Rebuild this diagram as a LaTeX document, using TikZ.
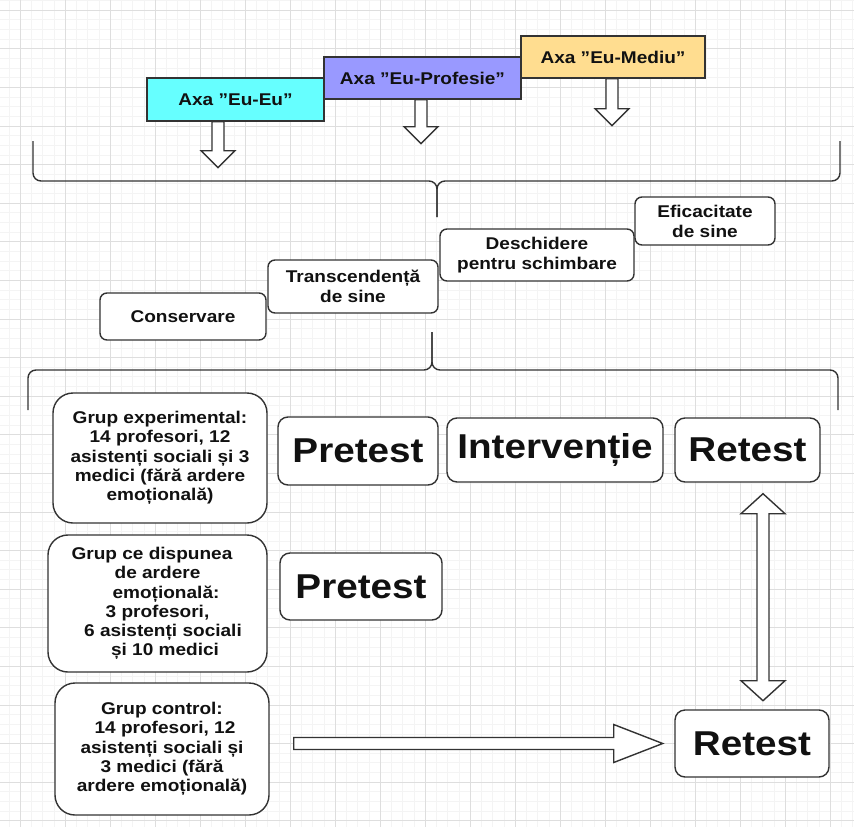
\documentclass[tikz,border=0pt]{standalone}
\usepackage{fontspec}
\setmainfont{Liberation Sans}[FakeStretch=1.12]
\usetikzlibrary{calc}
\definecolor{edge}{HTML}{333333}
\definecolor{ink}{HTML}{111111}
\definecolor{gmaj}{HTML}{DEDEDE}
\definecolor{gmin}{HTML}{F4F4F4}
\definecolor{cyanbox}{HTML}{66FFFF}
\definecolor{lavbox}{HTML}{9999FF}
\definecolor{yelbox}{HTML}{FFDD90}
\tikzset{
  axisbox/.style={draw=edge, line width=1.4pt, align=center, inner sep=0pt, text=ink,
    font=\fontsize{17}{20}\selectfont\bfseries},
  stepbox/.style={draw=edge, line width=1.4pt, fill=white, rounded corners=7pt, align=center,
    inner sep=0pt, text=ink, font=\fontsize{17}{20}\selectfont\bfseries},
  grpbox/.style={stepbox, rounded corners=20pt, font=\fontsize{17}{19.3}\selectfont\bfseries},
  bigbox/.style={stepbox, rounded corners=10pt, font=\fontsize{34.5}{40}\selectfont\bfseries},
  blockarrow/.style={draw=edge, line width=1.4pt, fill=white, line join=miter},
  bracestyle/.style={draw=edge, line width=1.4pt, rounded corners=8pt},
  pics/arrowdown/.style={code={
    \draw[blockarrow] (-6,0) -- (6,0) -- (6,#1-17) -- (17,#1-17) -- (0,#1)
      -- (-17,#1-17) -- (-6,#1-17) -- cycle;}},
  pics/arrowright/.style={code={
    \draw[blockarrow] (0,-6) -- (#1-49,-6) -- (#1-49,-19) -- (#1,0) -- (#1-49,19)
      -- (#1-49,6) -- (0,6) -- cycle;}},
  pics/arrowupdown/.style={code={
    \draw[blockarrow] (0,0) -- (22,20) -- (6,20) -- (6,#1-20) -- (22,#1-20) -- (0,#1)
      -- (-22,#1-20) -- (-6,#1-20) -- (-6,20) -- (-22,20) -- cycle;}}
}
\begin{document}
\begin{tikzpicture}[x=1pt,y=-1pt]
\useasboundingbox (0,0) rectangle (854,827);
\fill[white] (0,0) rectangle (854,827);
% grid
\foreach \i in {-2,...,76} \draw[gmin, line width=0.5pt] ({20+11.25*\i},0) -- ({20+11.25*\i},827);
\foreach \i in {-2,...,86} \draw[gmin, line width=0.5pt] (0,{10+9.65*\i}) -- (854,{10+9.65*\i});
\foreach \i in {-1,...,19} \draw[gmaj, line width=0.6pt] ({20+45*\i},0) -- ({20+45*\i},827);
\foreach \i in {-1,...,21} \draw[gmaj, line width=0.6pt] (0,{10+38.6*\i}) -- (854,{10+38.6*\i});

% axes
\node[axisbox, fill=cyanbox, minimum width=177pt, minimum height=43pt] (eueu) at (235.5,99.5) {Axa ”Eu-Eu”};
\node[axisbox, fill=lavbox, minimum width=197pt, minimum height=42pt] (euprof) at (422.5,78) {Axa ”Eu-Profesie”};
\node[axisbox, fill=yelbox, minimum width=184pt, minimum height=42pt] (eumed) at (613,57) {Axa ”Eu-Mediu”};

\pic at ([xshift=-17.5pt]eueu.south) {arrowdown=46};
\pic at ([xshift=-1.5pt]euprof.south) {arrowdown=44};
\pic at ([xshift=-1pt]eumed.south) {arrowdown=47};

% brace 1
\coordinate (b1tip) at (437,217);
\draw[bracestyle] (33,141) -- (33,181) -- (437,181) -- (b1tip);
\draw[bracestyle] (b1tip) -- (437,181) -- (840,181) -- (840,141);

% values
\node[stepbox, minimum width=166pt, minimum height=47pt] (cons) at (183,316.5) {Conservare};
\node[stepbox, minimum width=170pt, minimum height=53pt] (trans) at (353,286.5) {Transcendență\\de sine};
\node[stepbox, minimum width=194pt, minimum height=52pt] (desch) at (537,255) {Deschidere\\pentru schimbare};
\node[stepbox, minimum width=140pt, minimum height=48pt] (efic) at (705,221) {Eficacitate\\de sine};

% brace 2
\coordinate (b2tip) at (432,332);
\draw[bracestyle] (28,410) -- (28,370) -- (432,370) -- (b2tip);
\draw[bracestyle] (b2tip) -- (432,370) -- (838,370) -- (838,410);

% groups
\node[grpbox, minimum width=214pt, minimum height=130pt] (gexp) at (160,458)
  {Grup experimental:\\14 profesori, 12\\asistenți sociali și 3\\medici (fără ardere\\emoțională)};
\node[bigbox, minimum width=160pt, minimum height=68pt] (pre1) at (358,451) {Pretest};
\node[bigbox, minimum width=216pt, minimum height=64pt] (interv) at (555,450) {Intervenție};
\node[bigbox, minimum width=145pt, minimum height=64pt] (ret1) at (747.5,450) {Retest};

\node[grpbox, minimum width=219pt, minimum height=137pt] (gdisp) at (157.5,603.5)
  {Grup ce dispunea\hspace*{11pt}\\de ardere\hspace*{5pt}\\\hspace*{17pt}emoțională:\\3 profesori,\\\hspace*{11pt}6 asistenți sociali\\\hspace*{15pt}și 10 medici};
\node[bigbox, minimum width=162pt, minimum height=67pt] (pre2) at (361,586.5) {Pretest};

\node[grpbox, minimum width=214pt, minimum height=132pt] (gctrl) at (162,749)
  {Grup control:\\\hspace*{6pt}14 profesori, 12\\asistenți sociali și\\3 medici (fără\\ardere emoțională)};
\node[bigbox, minimum width=154pt, minimum height=67pt] (ret2) at (752,743.5) {Retest};

% connectors
\coordinate (hs) at ([xshift=24pt]gctrl.east);
\pic at (hs |- ret2.west) {arrowright=369};
\pic at ([xshift=15.5pt,yshift=-11pt]ret1.south) {arrowupdown=207};
\end{tikzpicture}
\end{document}
